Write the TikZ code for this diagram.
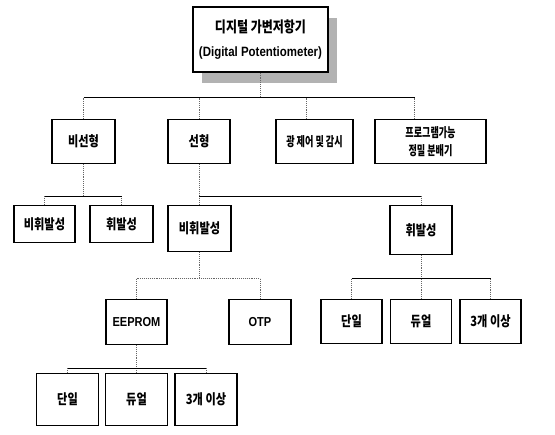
\documentclass[tikz,border=0pt]{standalone}
\usepackage{fontspec}
\setmainfont{Liberation Sans}
\newfontfamily\lat{Liberation Sans}[FakeStretch=0.85]
\newfontfamily\kr{Noto Sans CJK KR}[FakeStretch=0.8]
\newfontfamily\krn{Noto Sans CJK KR}[FakeStretch=0.7]
\usetikzlibrary{positioning,calc}

\begin{document}
\begin{tikzpicture}[x=1pt,y=-1pt,
    box/.style={draw, line width=1.2pt, rectangle, inner sep=0pt, anchor=north, fill=white,
      font=\kr\bfseries\fontsize{14}{16}\selectfont, minimum width=62pt, minimum height=44pt},
    small/.style={font=\krn\bfseries\fontsize{13}{14}\selectfont},
    latin/.style={font=\lat\bfseries\fontsize{13}{15}\selectfont},
    bus/.style={line width=0.9pt},
    drop/.style={densely dotted, line width=0.9pt, black!60}]
    \useasboundingbox (0,0) rectangle (555,435);
    % top box with its grey shadow
    \fill[black!30] (202,18) rectangle (337,83);
    \node[box, line width=1.8pt, minimum width=135pt, minimum height=65pt, align=center,
        font=\kr\bfseries\fontsize{15}{16}\selectfont] (root) at (260.5,6)
        {디지털 가변저항기\\[8pt]{\lat\fontsize{13.5}{15}\selectfont(Digital Potentiometer)}};
    % first level
    \node[box, minimum width=63pt] (nonlin) at (83.5,119) {비선형};
    \node[box] (lin) at (199,119) {선형};
    \node[box, small, minimum width=77pt] (light) at (314.5,119) {광 제어 및 감시};
    \node[box, small, minimum width=111pt, align=center] (prog) at (430.5,119) {프로그램가능\\[4pt]정밀 분배기};
    % second level
    \node[box, minimum width=61pt, minimum height=37pt] (nvL) at (44.5,205) {비휘발성};
    \node[box, minimum width=63pt, minimum height=37pt] (volL) at (121.5,205) {휘발성};
    \node[box, minimum width=63pt, minimum height=46pt] (nvM) at (199.5,205) {비휘발성};
    \node[box, minimum height=49pt] (volM) at (421,205) {휘발성};
    % third level
    \node[box, latin, minimum width=61pt, minimum height=45pt] (eeprom) at (136.5,299) {EEPROM};
    \node[box, latin, minimum height=45pt] (otp) at (260,299) {OTP};
    \foreach \x/\name/\txt in {351.5/vs/단일, 421/vd/듀얼, 490.5/vm/3개 이상}
        \node[box, minimum width=61pt] (\name) at (\x,299) {\txt};
    % last level
    \foreach \x/\name/\txt in {67.5/es/단일, 136.5/ed/듀얼, 206/em/3개 이상}
        \node[box, minimum height=52pt] (\name) at (\x,373) {\txt};

    % connectors
    \draw[drop] (root.south) -- ++(0,25) coordinate (t0);
    \foreach \n/\dx in {nonlin/0, lin/0, light/-8, prog/-16}
        \draw[drop] ([xshift=\dx pt]\n.north) -- ([xshift=\dx pt]\n.north |- t0);
    \draw[bus] (nonlin.north |- t0) -- ([xshift=-16pt]prog.north |- t0);

    \draw[drop] (nonlin.south) -- ++(0,32) coordinate (t1);
    \draw[drop] (nvL.north) -- (nvL.north |- t1);
    \draw[drop] (volL.north) -- (volL.north |- t1);
    \draw[bus] (nvL.north |- t1) -- (volL.north |- t1);

    \draw[drop] (lin.south) -- ++(0,32) coordinate (t2);
    \draw[drop] (nvM.north) -- (nvM.north |- t2);
    \draw[drop] (volM.north) -- (volM.north |- t2);
    \draw[bus] (lin.south |- t2) -- (volM.north |- t2);

    \draw[drop] (nvM.south) -- ++(0,26) coordinate (t3);
    \draw[drop] (eeprom.north) -- (eeprom.north |- t3);
    \draw[drop] (otp.north) -- (otp.north |- t3);
    \draw[drop] (eeprom.north |- t3) -- (otp.north |- t3);

    \draw[drop] (volM.south) -- (volM.south |- t3) coordinate (t4);
    \foreach \n in {vs, vd, vm}
        \draw[drop] (\n.north) -- (\n.north |- t4);
    \draw[bus] (vs.north |- t4) -- (vm.north |- t4);

    \draw[drop] (eeprom.south) -- ++(0,23) coordinate (t5);
    \foreach \n in {es, ed, em}
        \draw[drop] (\n.north) -- (\n.north |- t5);
    \draw[bus] (es.north |- t5) -- (em.north |- t5);
\end{tikzpicture}
\end{document}
